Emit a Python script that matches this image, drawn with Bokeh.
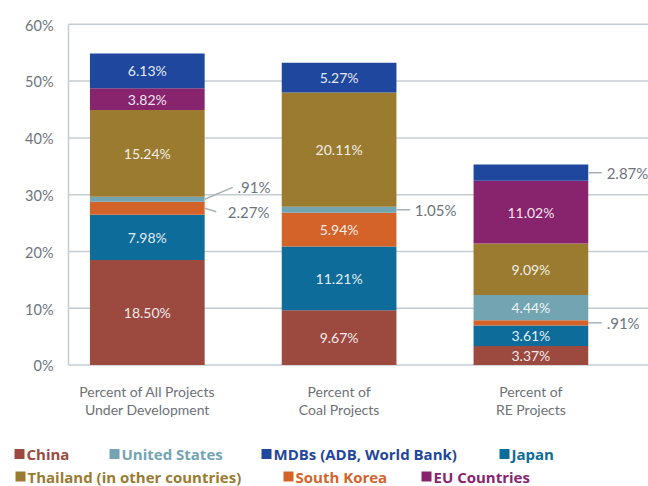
from bokeh.plotting import figure
from bokeh.models import ColumnDataSource, Range1d
from bokeh.core.properties import value
from bokeh.embed import file_html
from bokeh.resources import INLINE
import numpy as np

# ---------------- data ----------------
categories = ["Percent of All Projects\nUnder Development", "Percent of\nCoal Projects", "Percent of\nRE Projects"]
series = ["China", "Japan", "South Korea", "United States",
          "Thailand (in other countries)", "EU Countries", "MDBs (ADB, World Bank)"]
china = [18.50, 9.67, 3.37]
japan = [7.98, 11.21, 3.61]
south_korea = [2.27, 5.94, 0.91]
united_states = [0.91, 1.05, 4.44]
thailand = [15.24, 20.11, 9.09]
eu_countries = [3.82, 0.0, 11.02]
mdbs = [6.13, 5.27, 2.87]
y_ticks = [0, 10, 20, 30, 40, 50, 60]
y_tick_labels = ["0%", "10%", "20%", "30%", "40%", "50%", "60%"]
legend_rows = [["China", "United States", "MDBs (ADB, World Bank)", "Japan"],
               ["Thailand (in other countries)", "South Korea", "EU Countries"]]
# values labelled outside their bar: (bar index, series)
outside = [(0, "United States"), (0, "South Korea"), (1, "United States"),
           (2, "MDBs (ADB, World Bank)"), (2, "South Korea")]

# ---------------- styles ----------------
colors = {
    "China": "#9c4a40",
    "Japan": "#0d6c9a",
    "South Korea": "#d4632a",
    "United States": "#72a4b2",
    "Thailand (in other countries)": "#9a7b30",
    "EU Countries": "#88246e",
    "MDBs (ADB, World Bank)": "#1f479d",
}
FONT = "Lato"
LEG_FONT = "Open Sans"
GRAY = "#6c747d"
CAT_GRAY = "#6e7175"
GRID = "#c5ccd2"
BAR_W = 0.598
W, H = 648, 486
PX = 191.8           # pixels per category step
PY = 5.68            # pixels per percentage point
X_ORIGIN_PX = 146.8  # pixel of first bar centre
Y_ORIGIN_PX = 364.6  # pixel of 0%
AXIS_PX = 68


def dx(px):
    return (px - X_ORIGIN_PX) / PX


def dy(py):
    return (Y_ORIGIN_PX - py) / PY


values = {
    "China": china, "Japan": japan, "South Korea": south_korea,
    "United States": united_states, "Thailand (in other countries)": thailand,
    "EU Countries": eu_countries, "MDBs (ADB, World Bank)": mdbs,
}
xs = list(range(len(categories)))
src = ColumnDataSource(dict(x=xs, **{s: values[s] for s in series}))

p = figure(width=W, height=H, output_backend="svg", toolbar_location=None,
           x_range=Range1d(dx(0), dx(W)), y_range=Range1d(dy(H), dy(0)),
           x_axis_location=None, y_axis_location=None, min_border=0)
p.outline_line_color = None
p.grid.visible = False

ax_x = dx(AXIS_PX)
# grid lines and axis line
p.segment(x0=[ax_x] * len(y_ticks), y0=y_ticks, x1=[dx(W)] * len(y_ticks), y1=y_ticks,
          line_color=GRID, line_width=1.5)
p.segment(x0=[ax_x], y0=[y_ticks[0]], x1=[ax_x], y1=[y_ticks[-1]],
          line_color=GRID, line_width=1.5)
p.text(x=[dx(AXIS_PX - 15)] * len(y_ticks), y=[t - 0.15 for t in y_ticks], text=y_tick_labels,
       text_color=GRAY, text_font=value(FONT), text_font_size="14.5px",
       text_align="right", text_baseline="middle")

renderers = p.vbar_stack(series, x="x", width=BAR_W, source=src,
                         color=[colors[s] for s in series], line_color=None)

# category labels (two lines)
l1 = [c.split("\n")[0] for c in categories]
l2 = [c.split("\n")[1] for c in categories]
p.text(x=xs, y=[dy(391)] * len(xs), text=l1, text_color=CAT_GRAY, text_font=value(FONT),
       text_font_size="14px", text_align="center", text_baseline="middle")
p.text(x=xs, y=[dy(409)] * len(xs), text=l2, text_color=CAT_GRAY, text_font=value(FONT),
       text_font_size="14px", text_align="center", text_baseline="middle")


def fmt(v):
    s = f"{v:.2f}%"
    return s[1:] if s.startswith("0") else s


# value labels
cum = np.zeros(len(xs))
in_x, in_y, in_t = [], [], []
mids = {}
for s in series:
    v = np.array(values[s])
    mid = cum + v / 2
    for i in xs:
        mids[(i, s)] = (mid[i], v[i])
        if v[i] > 0 and (i, s) not in outside:
            in_x.append(i); in_y.append(mid[i]); in_t.append(fmt(v[i]))
    cum = cum + v

p.text(x=in_x, y=in_y, text=in_t, text_color="white", text_alpha=0.9,
       text_font=value(FONT), text_font_size="14px", text_align="center",
       text_baseline="middle")

# outside label placement (style offsets, in data units)
place = {
    (0, "United States"): (0.445, 31.3, 0.47),
    (0, "South Korea"): (0.36, 27.0, 0.42),
}
x0, y0, x1, y1 = [], [], [], []
ox, oy, ot = [], [], []
for (i, s) in outside:
    m, v = mids[(i, s)]
    if (i, s) in place:
        ex, ey, tx = place[(i, s)]
    else:
        ex, ey, tx = 0.37, m, 0.395
    x0.append(i + BAR_W / 2); y0.append(m); x1.append(i + ex); y1.append(ey)
    ox.append(i + tx); oy.append(ey); ot.append(fmt(v))
p.segment(x0=x0, y0=y0, x1=x1, y1=y1, line_color="#a9b1b8", line_width=1.5)
p.text(x=ox, y=oy, text=ot, text_color=GRAY, text_font=value(FONT),
       text_font_size="15px", text_align="left", text_baseline="middle")

# legend
row_pos = [[14, 109, 261, 499], [15, 283, 421]]
row_py = [453.5, 476]
lx, ly, lc, tx_, ty_, tt = [], [], [], [], [], []
for r, row in enumerate(legend_rows):
    for k, s in enumerate(row):
        lx.append(dx(row_pos[r][k] + 5)); ly.append(dy(row_py[r])); lc.append(colors[s])
        tx_.append(dx(row_pos[r][k] + 12)); ty_.append(dy(row_py[r])); tt.append(s)
p.rect(x=lx, y=ly, width=10, height=10, width_units="screen", height_units="screen",
       color=lc, line_color=None)
p.text(x=tx_, y=ty_, text=tt, text_color=lc, text_font=value(LEG_FONT),
       text_font_size="15px", text_font_style="bold", text_align="left",
       text_baseline="middle")

open("out.html", "w").write(file_html(p, INLINE))
